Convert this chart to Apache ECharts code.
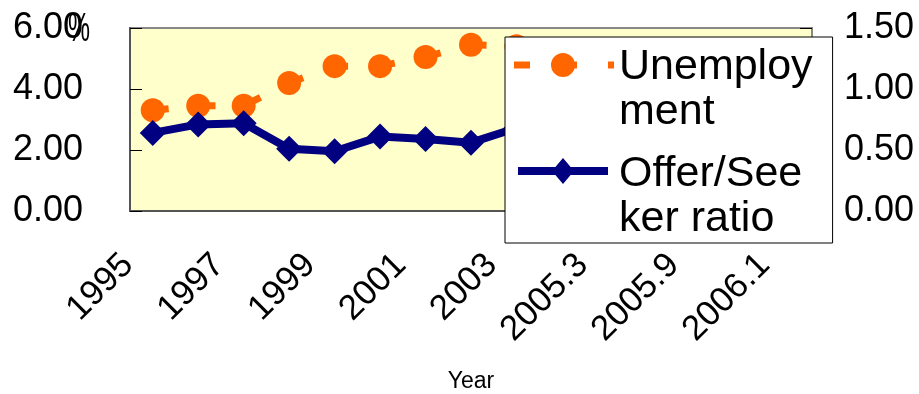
<!DOCTYPE html>
<html>
<head>
<meta charset="utf-8">
<script src="https://cdn.jsdelivr.net/npm/echarts@6/dist/echarts.min.js"></script>
<style>
  html, body { margin: 0; padding: 0; background: #fff; }
  #chart { width: 919px; height: 394px; }
</style>
</head>
<body>
<div id="chart"></div>
<script>
// Period labels along the x axis (every other one is printed)
const periods = ['1995', '1996', '1997', '1998', '1999', '2000', '2001', '2002', '2003',
                 '2004', '2005.3', '2005.6', '2005.9', '2005.12', '2006.1'];
// Unemployment rate, % (left axis)
const unemployment = [3.3, 3.45, 3.45, 4.2, 4.75, 4.75, 5.05, 5.45, 5.4,
                      4.7, 4.5, 4.2, 4.2, 4.4, 4.5];
// Job offers per job seeker (right axis)
const offerSeeker = [0.64, 0.71, 0.72, 0.51, 0.49, 0.61, 0.59, 0.56, 0.68,
                     0.83, 0.92, 0.95, 0.97, 1.00, 1.03];
// Axis ranges
const leftAxis = { min: 0, max: 6, step: 2 };
const rightAxis = { min: 0, max: 1.5, step: 0.5 };

const seriesNames = ['Unemployment', 'Offer/Seeker ratio'];
const legendText = {
  'Unemployment': 'Unemploy\nment',
  'Offer/Seeker ratio': 'Offer/See\nker ratio'
};

const FONT = "'Liberation Sans', Arial, sans-serif";

// Legend keys: a 100 x 90 box whose sample sits level with the first text line.
// The two hairline specks at opposite corners pin the path's bounds to the box.
const BOX = 'M0,0L0.01,0L0,0.01Z M100,90L99.99,90L100,89.99Z ';
const unemploymentKey = 'path://' + BOX +
  'M0,16.5L16,16.5L16,23.5L0,23.5Z ' +
  'M47,16.5L63,16.5L63,23.5L47,23.5Z ' +
  'M94,16.5L100,16.5L100,23.5L94,23.5Z ' +
  'M49,8A12,12 0 1,1 49,32A12,12 0 1,1 49,8Z';
const offerSeekerKey = 'path://' + BOX +
  'M4,15L94,15L94,23L4,23Z ' +
  'M49,6L60,19L49,32L38,19Z';

const chart = echarts.init(document.getElementById('chart'), null, { renderer: 'canvas' });

chart.setOption({
  animation: false,
  backgroundColor: '#ffffff',
  grid: {
    left: 130, right: 107, top: 28, bottom: 183,
    show: true,
    backgroundColor: '#FFFFCC',
    borderColor: '#888888',
    borderWidth: 2
  },
  graphic: [{
    // unit of the left axis, in a tall narrow cut
    type: 'text', x: 68, y: 10, scaleX: 0.62, z: 10,
    style: { text: '%', fontSize: 40, fontFamily: FONT, fill: '#000' }
  }],
  legend: {
    data: [
      { name: seriesNames[0], icon: unemploymentKey },
      { name: seriesNames[1], icon: offerSeekerKey }
    ],
    orient: 'vertical',
    left: 505, top: 37,
    backgroundColor: '#ffffff',
    borderColor: '#000000',
    borderWidth: 1,
    borderRadius: 0,
    padding: [8, 20, 1, 9],
    itemWidth: 100,
    itemHeight: 90,
    itemGap: 17,
    selectedMode: false,
    itemStyle: { borderWidth: 0 },
    formatter: name => legendText[name],
    textStyle: { fontSize: 43, lineHeight: 45, color: '#000', fontFamily: FONT }
  },
  xAxis: {
    type: 'category',
    data: periods,
    boundaryGap: true,
    name: 'Year',
    nameLocation: 'middle',
    nameGap: 159,
    nameTextStyle: { fontSize: 23, color: '#000', fontFamily: FONT },
    axisLine: { lineStyle: { color: '#555', width: 2 } },
    axisTick: { inside: true, length: 12, interval: 0, lineStyle: { color: '#000', width: 1 } },
    axisLabel: {
      interval: 1, rotate: 45, margin: 24, padding: [0, 35, 0, 0],
      fontSize: 35, color: '#000', fontFamily: FONT
    },
    splitLine: { show: false }
  },
  yAxis: [{
    type: 'value',
    position: 'left',
    min: leftAxis.min, max: leftAxis.max, interval: leftAxis.step,
    axisLine: { show: true, lineStyle: { color: '#555', width: 2 } },
    axisTick: { show: true, inside: true, length: 12, lineStyle: { color: '#000', width: 1 } },
    axisLabel: {
      margin: 47, fontSize: 36, color: '#000', fontFamily: FONT,
      formatter: v => v.toFixed(2)
    },
    splitLine: { show: false }
  }, {
    type: 'value',
    position: 'right',
    min: rightAxis.min, max: rightAxis.max, interval: rightAxis.step,
    axisLine: { show: true, lineStyle: { color: '#888', width: 2 } },
    axisTick: { show: true, inside: true, length: 12, lineStyle: { color: '#000', width: 1 } },
    axisLabel: {
      margin: 32, fontSize: 36, color: '#000', fontFamily: FONT,
      formatter: v => v.toFixed(2)
    },
    splitLine: { show: false }
  }],
  series: [{
    name: seriesNames[0],
    type: 'line',
    yAxisIndex: 0,
    data: unemployment,
    symbol: 'circle',
    symbolSize: 24,
    showAllSymbol: true,
    lineStyle: { color: '#FF6600', width: 7, type: [16, 31], cap: 'butt' },
    itemStyle: { color: '#FF6600' },
    emphasis: { disabled: true },
    z: 2
  }, {
    name: seriesNames[1],
    type: 'line',
    yAxisIndex: 1,
    data: offerSeeker,
    symbol: 'diamond',
    symbolSize: 26,
    showAllSymbol: true,
    lineStyle: { color: '#000080', width: 8 },
    itemStyle: { color: '#000080' },
    emphasis: { disabled: true },
    z: 3
  }]
});
</script>
</body>
</html>
